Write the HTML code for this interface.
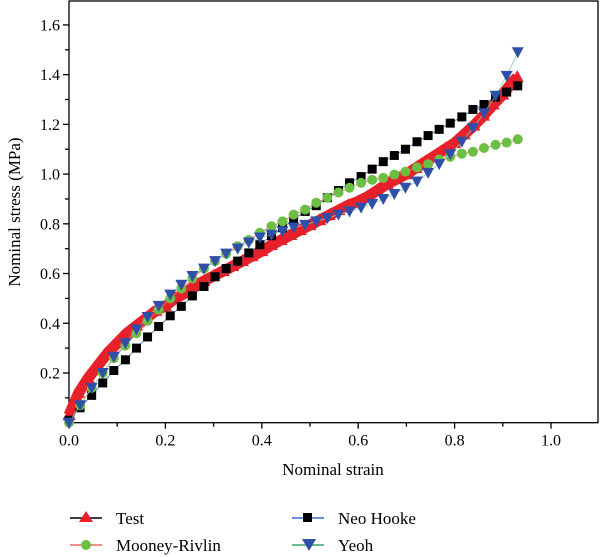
<!DOCTYPE html>
<html><head><meta charset="utf-8"><style>
html,body{margin:0;padding:0;background:#fff;}
svg{display:block;font-family:"Liberation Serif",serif;}
</style></head><body>
<svg id="chart" width="600" height="557" viewBox="0 0 600 557" xmlns="http://www.w3.org/2000/svg">
<g id="axes"></g>
<g id="series"></g>
<text x="0" y="0" transform="translate(20,212) rotate(-90)" text-anchor="middle" font-size="17">Nominal stress (MPa)</text>
<text x="333" y="475" text-anchor="middle" font-size="17">Nominal strain</text>
<g font-size="17">
 <g>
  <line x1="70" y1="518" x2="102" y2="518" stroke="#000" stroke-width="1.5"/>
  <polygon points="86,511 93,522 79,522" fill="#e8202a"/>
  <text x="116" y="524">Test</text>
 </g>
 <g>
  <line x1="70" y1="545" x2="102" y2="545" stroke="#f06a6a" stroke-width="1.5"/>
  <circle cx="86" cy="545" r="5" fill="#6cbf43"/>
  <text x="116" y="551">Mooney-Rivlin</text>
 </g>
 <g>
  <line x1="292" y1="518" x2="324" y2="518" stroke="#3a6fd0" stroke-width="1.5"/>
  <rect x="303" y="513" width="9" height="9" fill="#000"/>
  <text x="338" y="524">Neo Hooke</text>
 </g>
 <g>
  <line x1="292" y1="545" x2="324" y2="545" stroke="#3aa36a" stroke-width="1.5"/>
  <polygon points="302,539 316,539 309,551" fill="#2f4fa8"/>
  <text x="338" y="551">Yeoh</text>
 </g>
</g>
</svg>
<script>
const testStrain = [0,0.02,0.04,0.06,0.08,0.10,0.12,0.14,0.16,0.18,0.20,0.22,0.24,0.26,0.28,0.30,0.32,0.34,0.36,0.38,0.40,0.42,0.44,0.46,0.48,0.50,0.52,0.54,0.56,0.58,0.60,0.62,0.64,0.66,0.68,0.70,0.72,0.74,0.76,0.78,0.80,0.82,0.84,0.86,0.88,0.90,0.92,0.93];
const testStress = [0.03,0.12,0.18,0.23,0.28,0.32,0.36,0.39,0.42,0.45,0.47,0.50,0.52,0.55,0.57,0.59,0.61,0.63,0.65,0.67,0.69,0.715,0.735,0.755,0.775,0.795,0.815,0.835,0.855,0.875,0.89,0.91,0.935,0.96,0.98,1.00,1.025,1.05,1.075,1.10,1.125,1.16,1.195,1.235,1.28,1.32,1.37,1.39];
const modelStrain = [0,0.023,0.047,0.070,0.093,0.117,0.140,0.163,0.186,0.210,0.233,0.256,0.280,0.303,0.326,0.350,0.373,0.396,0.420,0.443,0.466,0.490,0.513,0.536,0.559,0.582,0.606,0.629,0.652,0.675,0.698,0.722,0.745,0.768,0.791,0.815,0.838,0.861,0.885,0.908,0.931];
const neoHooke = [0.01,0.06,0.11,0.16,0.21,0.253,0.30,0.345,0.387,0.43,0.468,0.51,0.548,0.587,0.62,0.65,0.683,0.716,0.752,0.784,0.817,0.85,0.873,0.905,0.934,0.965,0.99,1.02,1.05,1.075,1.10,1.13,1.155,1.18,1.205,1.23,1.26,1.28,1.31,1.33,1.355];
const mooneyRivlin = [0.0,0.07,0.14,0.20,0.26,0.31,0.36,0.41,0.455,0.50,0.54,0.58,0.62,0.65,0.68,0.71,0.735,0.764,0.79,0.81,0.837,0.857,0.885,0.905,0.926,0.945,0.965,0.977,0.985,0.998,1.01,1.027,1.04,1.058,1.07,1.082,1.09,1.105,1.118,1.127,1.14];
const yeoh = [0.0,0.07,0.14,0.20,0.265,0.32,0.375,0.425,0.47,0.515,0.555,0.59,0.62,0.65,0.68,0.70,0.725,0.745,0.756,0.77,0.785,0.796,0.81,0.823,0.837,0.85,0.865,0.88,0.90,0.92,0.945,0.97,1.005,1.04,1.08,1.13,1.185,1.245,1.315,1.395,1.49];
const xTicks = ["0.0","0.2","0.4","0.6","0.8","1.0"];
const yTicks = ["0.2","0.4","0.6","0.8","1.0","1.2","1.4","1.6"];

const NS = "http://www.w3.org/2000/svg";
const X0 = 69, XS = 482, Y0 = 422.7, YS = 248.6, RIGHT = 598, TOP = 1;
function xPos(v){ return X0 + v*XS; }
function yPos(v){ return Y0 - v*YS; }
function mk(tag, attrs, parent){ const e = document.createElementNS(NS, tag); for (const k in attrs) e.setAttribute(k, attrs[k]); parent.appendChild(e); return e; }

const axes = document.getElementById('axes');
const frame = mk('rect', {x:X0, y:TOP, width:RIGHT-X0, height:Y0-TOP, fill:'none', stroke:'#000', 'stroke-width':1.3}, axes);


xTicks.forEach(function(t){
  const v = parseFloat(t);
  const tk = mk('line', {x1:xPos(v), x2:xPos(v), y1:Y0, y2:Y0+6, stroke:'#000', 'stroke-width':1.3}, axes);
  
  
  const mv = v + 0.1;
  if (xPos(mv) < RIGHT) {
    const mt = mk('line', {x1:xPos(mv), x2:xPos(mv), y1:Y0, y2:Y0+4, stroke:'#000', 'stroke-width':1.3}, axes);
    
    
  }
  const lb = mk('text', {x:xPos(v), y:Y0+23, 'text-anchor':'middle', 'font-size':16}, axes);
  lb.textContent = t;
  
  
});
for (let i = 1; i <= 16; i++) {
  const v = i/10;
  const major = (i % 2 === 0);
  const tk = mk('line', {x1:X0-(major?6:4), x2:X0, y1:yPos(v), y2:yPos(v), stroke:'#000', 'stroke-width':1.3}, axes);
  
  
}
yTicks.forEach(function(t){
  const v = parseFloat(t);
  const lb = mk('text', {x:X0-9, y:yPos(v)+5.5, 'text-anchor':'end', 'font-size':16}, axes);
  lb.textContent = t;
  
  
});

const series = document.getElementById('series');
function pts(xs, ys){ return xs.map(function(x,i){ return xPos(x)+','+yPos(ys[i]); }).join(' '); }

// Test: thick red band of triangles
const tg = mk('g', {}, series);


const tl = mk('polyline', {points:pts(testStrain,testStress), fill:'none', stroke:'#e8202a', 'stroke-width':11, 'stroke-linejoin':'round'}, tg);


testStrain.forEach(function(x,i){
  const cx = xPos(x), cy = yPos(testStress[i]);
  const p = mk('polygon', {points:(cx)+','+(cy-7)+' '+(cx+6.5)+','+(cy+5)+' '+(cx-6.5)+','+(cy+5), fill:'#e8202a'}, tg);
  
  
});

// Neo Hooke
const ng = mk('g', {}, series);


const nl = mk('polyline', {points:pts(modelStrain,neoHooke), fill:'none', stroke:'#3a6fd0', 'stroke-width':0.8}, ng);


modelStrain.forEach(function(x,i){
  const r = mk('rect', {x:xPos(x)-4.5, y:yPos(neoHooke[i])-4.5, width:9, height:9, fill:'#000'}, ng);
  
  
});

// Mooney-Rivlin
const mg = mk('g', {}, series);


const ml = mk('polyline', {points:pts(modelStrain,mooneyRivlin), fill:'none', stroke:'#f06a6a', 'stroke-width':0.8}, mg);


modelStrain.forEach(function(x,i){
  const c = mk('circle', {cx:xPos(x), cy:yPos(mooneyRivlin[i]), r:5, fill:'#6cbf43'}, mg);
  
  
});

// Yeoh
const yg = mk('g', {}, series);


const yl = mk('polyline', {points:pts(modelStrain,yeoh), fill:'none', stroke:'#7fd0b0', 'stroke-width':0.8}, yg);


modelStrain.forEach(function(x,i){
  const cx = xPos(x), cy = yPos(yeoh[i]);
  const p = mk('polygon', {points:(cx-6)+','+(cy-5)+' '+(cx+6)+','+(cy-5)+' '+cx+','+(cy+6), fill:'#2f4fa8'}, yg);
  
  
});
</script>
</body></html>
